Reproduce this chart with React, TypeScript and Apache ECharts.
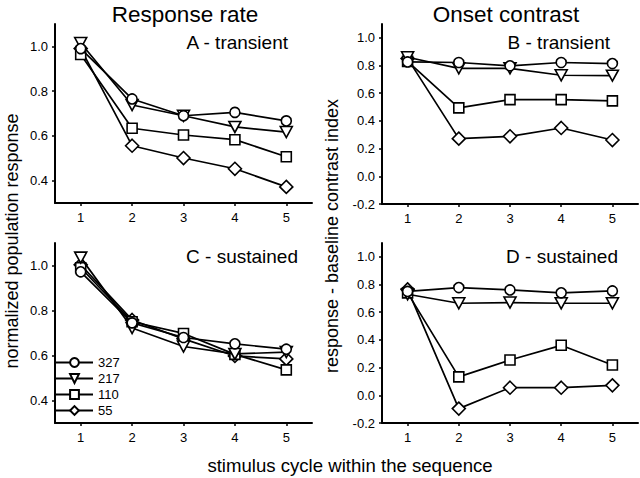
import React, { useEffect, useRef } from "react";
import * as echarts from "echarts";

const cycles = ["1", "2", "3", "4", "5"];
const groups = ["327", "217", "110", "55"];

// Panel A - response rate, transient
const a327 = [0.99, 0.765, 0.69, 0.705, 0.667];
const a217 = [1.015, 0.738, 0.69, 0.64, 0.617];
const a110 = [0.964, 0.634, 0.604, 0.583, 0.507];
const a55 = [0.99, 0.556, 0.501, 0.453, 0.372];

// Panel B - onset contrast, transient
const b327 = [0.826, 0.822, 0.798, 0.822, 0.814];
const b217 = [0.86, 0.78, 0.78, 0.73, 0.727];
const b110 = [0.83, 0.494, 0.554, 0.554, 0.545];
const b55 = [0.85, 0.272, 0.289, 0.349, 0.262];

// Panel C - response rate, sustained
const c327 = [0.972, 0.745, 0.68, 0.652, 0.628];
const c217 = [1.035, 0.722, 0.64, 0.607, 0.615];
const c110 = [0.99, 0.75, 0.698, 0.605, 0.536];
const c55 = [1.003, 0.758, 0.674, 0.598, 0.585];

// Panel D - onset contrast, sustained
const d327 = [0.75, 0.778, 0.761, 0.74, 0.754];
const d217 = [0.73, 0.665, 0.67, 0.665, 0.665];
const d110 = [0.74, 0.133, 0.255, 0.361, 0.219];
const d55 = [0.765, -0.096, 0.055, 0.055, 0.072];

const rateTicks = [0.4, 0.6, 0.8, 1.0];
const contrastTicks = [-0.2, 0.0, 0.2, 0.4, 0.6, 0.8, 1.0];

const FONT = "Liberation Sans, Arial, sans-serif";

const symbols: Record<string, { symbol: string; size: number | number[] }> = {
  "327": { symbol: "circle", size: 10 },
  "217": { symbol: "path://M0,0 L12,0 L6,11 Z", size: [12, 11] },
  "110": { symbol: "rect", size: 10 },
  "55": { symbol: "diamond", size: 13 },
};

export default function App() {
  const ref = useRef<HTMLDivElement>(null);
  useEffect(() => {
    if (!ref.current) return;
    const chart = echarts.init(ref.current, undefined, { renderer: "svg" });

    const grids = [
      { left: 55, top: 24, width: 257, height: 179 },
      { left: 382, top: 24, width: 256, height: 180 },
      { left: 55, top: 243, width: 257, height: 180 },
      { left: 382, top: 243, width: 256, height: 180 },
    ];

    const axisLineStyle = { lineStyle: { color: "#000", width: 2 } };
    const xAxes = grids.map((_, i) => ({
      type: "category",
      gridIndex: i,
      data: cycles,
      boundaryGap: true,
      axisLine: { show: true, onZero: false, ...axisLineStyle },
      axisTick: { show: true, alignWithLabel: true, length: 3, lineStyle: { color: "#000", width: 1.5 } },
      axisLabel: { color: "#000", fontSize: 13, fontFamily: FONT, margin: 8 },
      splitLine: { show: false },
    }));

    const mkY = (i: number, min: number, max: number, ticks: number[]) => ({
      type: "value",
      gridIndex: i,
      min,
      max,
      axisLine: { show: true, onZero: false, ...axisLineStyle },
      axisTick: { show: true, length: 3, customValues: ticks, lineStyle: { color: "#000", width: 1.5 } },
      axisLabel: {
        color: "#000",
        fontSize: 13,
        fontFamily: FONT,
        margin: 7,
        customValues: ticks,
        formatter: (v: number) => v.toFixed(1),
      },
      splitLine: { show: false },
    });

    const yAxes = [
      mkY(0, 0.3, 1.1, rateTicks),
      mkY(1, -0.2, 1.1, contrastTicks),
      mkY(2, 0.3, 1.1, rateTicks),
      mkY(3, -0.2, 1.1, contrastTicks),
    ];

    const panels = [
      [a327, a217, a110, a55],
      [b327, b217, b110, b55],
      [c327, c217, c110, c55],
      [d327, d217, d110, d55],
    ];

    const series: any[] = [];
    panels.forEach((vals, p) => {
      groups.forEach((g, k) => {
        series.push({
          type: "line",
          name: g,
          xAxisIndex: p,
          yAxisIndex: p,
          data: vals[k],
          symbol: symbols[g].symbol,
          symbolSize: symbols[g].size,
          showAllSymbol: true,
          lineStyle: { color: "#000", width: 1.7 },
          itemStyle: { color: "#fff", borderColor: "#000", borderWidth: 1.6 },
          emphasis: { disabled: true },
          z: 2 + (3 - k),
        });
      });
    });

    const txt = (x: number, y: number, text: string, size: number, align = "center", rotation = 0) => ({
      type: "text",
      x,
      y,
      rotation,
      style: {
        text,
        fill: "#000",
        font: `${size}px ${FONT}`,
        textAlign: align,
        textVerticalAlign: "middle",
      },
    });

    chart.setOption({
      animation: false,
      backgroundColor: "#fff",
      grid: grids,
      xAxis: xAxes,
      yAxis: yAxes,
      series,
      legend: {
        data: groups,
        orient: "vertical",
        left: 55,
        top: 356,
        padding: 0,
        itemWidth: 37,
        itemHeight: 11,
        itemGap: 3,
        selectedMode: false,
        textStyle: { color: "#000", fontSize: 13, fontFamily: FONT },
      },
      graphic: [
        txt(185, 14, "Response rate", 22.5),
        txt(506, 14, "Onset contrast", 22.5),
        txt(288, 42, "A - transient", 19, "right"),
        txt(610, 42, "B - transient", 19, "right"),
        txt(298, 256, "C - sustained", 19, "right"),
        txt(618, 256, "D - sustained", 19, "right"),
        txt(12, 241, "normalized population response", 18, "center", Math.PI / 2),
        txt(332, 236, "response - baseline contrast index", 18, "center", Math.PI / 2),
        txt(350, 465, "stimulus cycle within the sequence", 18.6),
      ],
    });
    return () => chart.dispose();
  }, []);
  return <div ref={ref} style={{ position: "fixed", left: 0, top: 0, width: 640, height: 478 }} />;
}
